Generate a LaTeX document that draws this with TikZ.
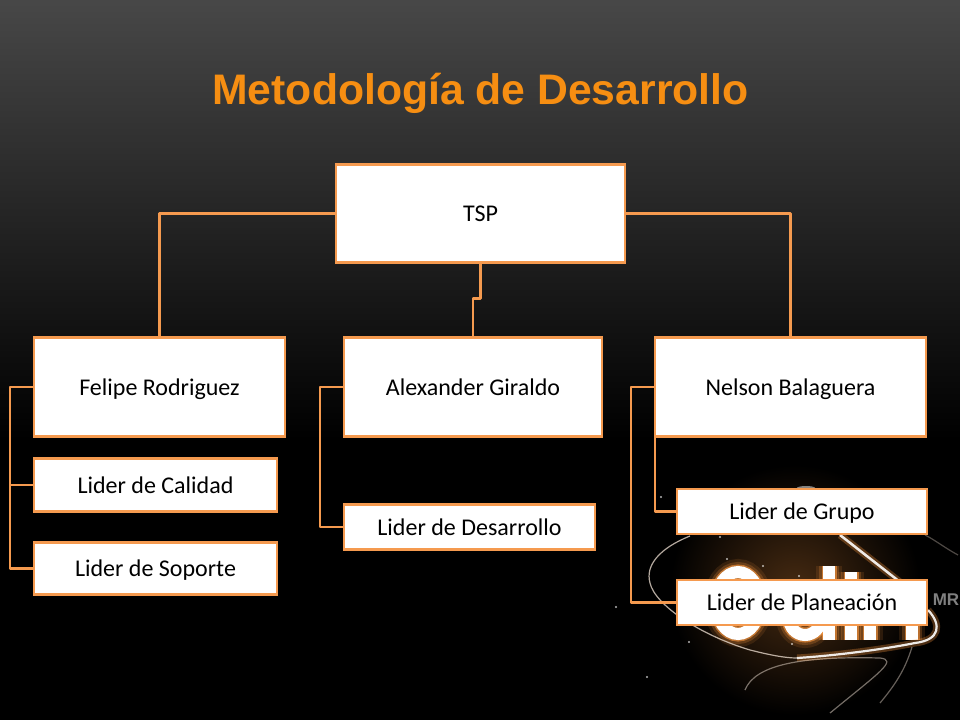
\documentclass[tikz,border=0pt]{standalone}
\usepackage{fontspec}
\setmainfont{Carlito}
\newfontfamily\titlefont{Liberation Sans}
\definecolor{boxline}{HTML}{F59A4F}
\definecolor{titleorange}{HTML}{F68E12}
\definecolor{glowline}{HTML}{FF9A40}

\begin{document}
\begin{tikzpicture}[x=1pt,y=-1pt]
  \tikzstyle{person} = [draw=boxline,fill=white,line width=2.9pt,outer sep=0pt,inner sep=0pt,font=\fontsize{24}{28}\selectfont,text=black,text height=21pt,text depth=5pt]
  \tikzstyle{link} = [draw=boxline,line width=2.9pt,line join=round]
  \tikzstyle{swoosh} = [draw=white!85!glowline,opacity=0.7,line width=1.2pt]
  \useasboundingbox (0,0) rectangle (960,720);
  % background
  \shade[top color=black!72,bottom color=black] (0,0) rectangle (960,440);
  \fill[black] (0,440) rectangle (960,720);
  % logo
  \shade[inner color=glowline!28!black,outer color=black] (795,590) circle (125);
  \foreach \w/\o/\c in {26/0.12/glowline,20/0.22/glowline,15/0.6/glowline,12/1/white} {
    \draw[draw=\c,opacity=\o,line width=\w pt] (738,603) ellipse (22 and 31);
    \draw[draw=\c,opacity=\o,line width=\w pt] (805,618) ellipse (16 and 17);
    \draw[draw=\c,opacity=\o,line width=\w pt] (829,566) -- (829,640);
    \draw[draw=\c,opacity=\o,line width=\w pt] (851,572) -- (851,640);
    \draw[draw=\c,opacity=\o,line width=\w pt] (870,590) -- (870,640);
    \draw[draw=\c,opacity=\o,line width=\w pt] (912,590) -- (912,640);
  }
  \draw[draw=glowline,line width=7pt,opacity=0.3] (840,535) -- (900,582);
  \draw[draw=white,line width=2.5pt,opacity=0.9] (840,535) -- (900,582);
  \fill[white,opacity=0.5] (806,488) ellipse (9 and 2);
  \draw[swoosh] (690,536) .. controls (660,548) and (645,565) .. (650,583)
    .. controls (655,605) and (700,635) .. (750,650) .. controls (770,655) and (785,658) .. (797,658);
  \draw[draw=glowline,line width=7pt,opacity=0.3] (797,658) .. controls (830,656) and (880,650) .. (915,643)
    .. controls (940,640) and (942,625) .. (928,610);
  \draw[draw=white,line width=2.2pt,opacity=0.9] (797,658) .. controls (830,656) and (880,650) .. (915,643)
    .. controls (940,640) and (942,625) .. (928,610);
  \draw[swoosh,opacity=0.45] (745,690) .. controls (755,665) and (800,656) .. (880,658)
    .. controls (898,660) and (880,672) .. (830,713);
  \draw[swoosh,opacity=0.4] (912,647) .. controls (905,670) and (895,685) .. (880,703);
  \draw[swoosh,opacity=0.3] (925,535) .. controls (935,540) and (945,548) .. (958,555);
  \node (mr) at (946,600) [text=white!50!black,font=\titlefont\bfseries\fontsize{17}{20}\selectfont] {MR};
  \foreach \sx/\sy [count=\si] in {661/497,720/537,727/559,763/566,799/576,616/607,689/642,792/644,647/677} {
    \fill[white,opacity=0.7] (\sx,\sy) circle (1.2);
  }
  % title
  \node (title) at (480.5,93) [text=titleorange,font=\titlefont\bfseries\fontsize{42.7}{50}\selectfont] {Metodología de Desarrollo};
  % boxes
  \node (tsp) at (480.5,213.5) [person,minimum width=289pt,minimum height=98pt] {TSP};
  \node (felipe) at (159.5,387) [person,minimum width=251pt,minimum height=99pt] {Felipe Rodriguez};
  \node (calidad) at (155.5,485) [person,minimum width=243pt,minimum height=53pt] {Lider de Calidad};
  \node (soporte) at (155.5,568.5) [person,minimum width=243pt,minimum height=52pt] {Lider de Soporte};
  \node (alexander) at (473,387) [person,minimum width=258pt,minimum height=99pt] {Alexander Giraldo};
  \node (desarrollo) at (469.5,527) [person,minimum width=251pt,minimum height=45pt] {Lider de Desarrollo};
  \node (nelson) at (790.5,387) [person,minimum width=271pt,minimum height=99pt] {Nelson Balaguera};
  \node (grupo) at (802,511.5) [person,minimum width=250pt,minimum height=45pt] {Lider de Grupo};
  \node (planeacion) at (802,602.5) [person,minimum width=250pt,minimum height=45pt] {Lider de Planeación};
  % links
  \draw[link] (tsp.west) -| (felipe.north);
  \draw[link] (tsp.east) -| (nelson.north);
  \draw[link] (tsp.south) -- ++(0,36) -| (alexander.north);
  \draw[link] (felipe.west) -- ++(-24,0) |- (soporte.west);
  \draw[link] (calidad.west) -- ++(-24,0);
  \draw[link] (alexander.west) -- ++(-24,0) |- (desarrollo.west);
  \draw[link] (nelson.west) -- ++(-24,0) |- (planeacion.west);
  \draw[link] (nelson.south west) |- (grupo.west);
\end{tikzpicture}
\end{document}
